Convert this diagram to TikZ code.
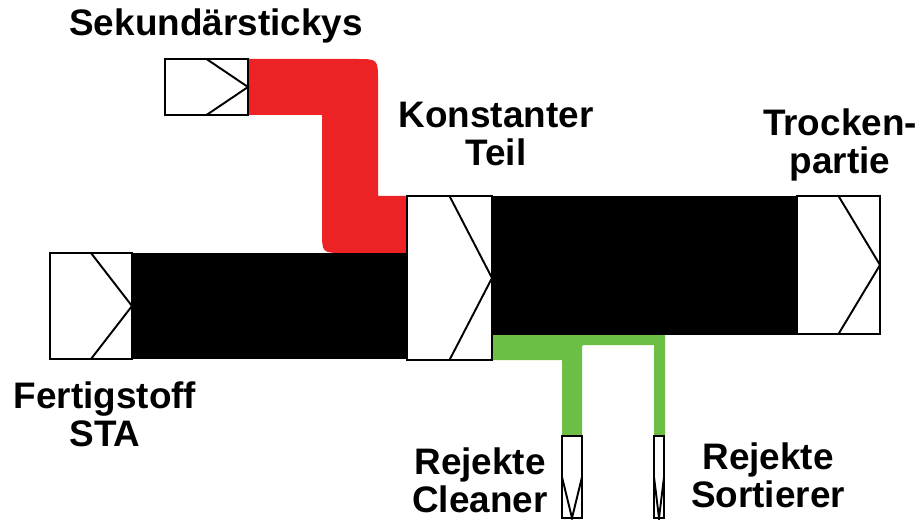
\documentclass[tikz,border=0pt]{standalone}
\usepackage{fontspec}
\setmainfont{Liberation Sans}
\usepackage{tikz}
\usetikzlibrary{positioning}

\definecolor{secred}{RGB}{237,34,36}
\definecolor{rejgreen}{RGB}{109,190,69}

\tikzset{
  unit/.style={draw, fill=white, line width=1.1pt, inner sep=0pt, outer sep=0pt},
  chev/.style={line width=1.1pt, line join=miter},
  lbl/.style={font=\fontsize{21}{21.5}\selectfont\bfseries, align=center},
}

\begin{document}
\begin{tikzpicture}[x=0.02cm, y=-0.02cm]
            \useasboundingbox (0,0) rectangle (922,520);
            % flows
            \fill[secred] (248,59) -- (356,59) .. controls (378,59) .. (378,81)
                -- (378,196) -- (408,196) -- (408,253) -- (344,253)
                .. controls (322,253) .. (322,231) -- (322,115) -- (248,115) -- cycle;
            \fill[black] (132,253) rectangle (408,359);
            \fill[black] (491,196) rectangle (798,335);
            \fill[rejgreen] (491,335) -- (665,335) -- (665,436) -- (654,436)
                -- (654,345) -- (586,345) .. controls (582,345) .. (582,349)
                -- (582,436) -- (562,436) -- (562,360) -- (491,360) -- cycle;
            % units with their chevrons
            \node[unit, minimum width=1.64cm, minimum height=2.12cm] (fert) at (91,306) {};
            \node[unit, minimum width=1.66cm, minimum height=1.12cm] (sek) at (206.5,87) {};
            \node[unit, minimum width=1.70cm, minimum height=3.28cm] (kon) at (449.5,278) {};
            \node[unit, minimum width=1.66cm, minimum height=2.76cm] (tro) at (838.5,265) {};
            \node[unit, minimum width=0.40cm, minimum height=1.64cm] (cln) at (572,477) {};
            \node[unit, minimum width=0.20cm, minimum height=1.64cm] (sor) at (659,477) {};
            \foreach \u in {fert,sek,kon,tro}
                \draw[chev] (\u.north) -- (\u.east) -- (\u.south);
            \foreach \u in {cln,sor}
                \draw[chev] (\u.west) -- (\u.south) -- (\u.east);
            % labels
            \node[lbl] (sektxt) at (216,26) {Sekundärstickys};
            \node[lbl] (kontxt) at (496,134) {Konstanter\\Teil};
            \node[lbl] (trotxt) at (840,145) {Trocken-\\partie};
            \node[lbl] (fertxt) at (105,414) {Fertigstoff\\STA};
            \node[lbl] (clntxt) at (480,480) {Rejekte\\Cleaner};
            \node[lbl] (sortxt) at (768,475) {Rejekte\\Sortierer};
        \end{tikzpicture}
\end{document}
